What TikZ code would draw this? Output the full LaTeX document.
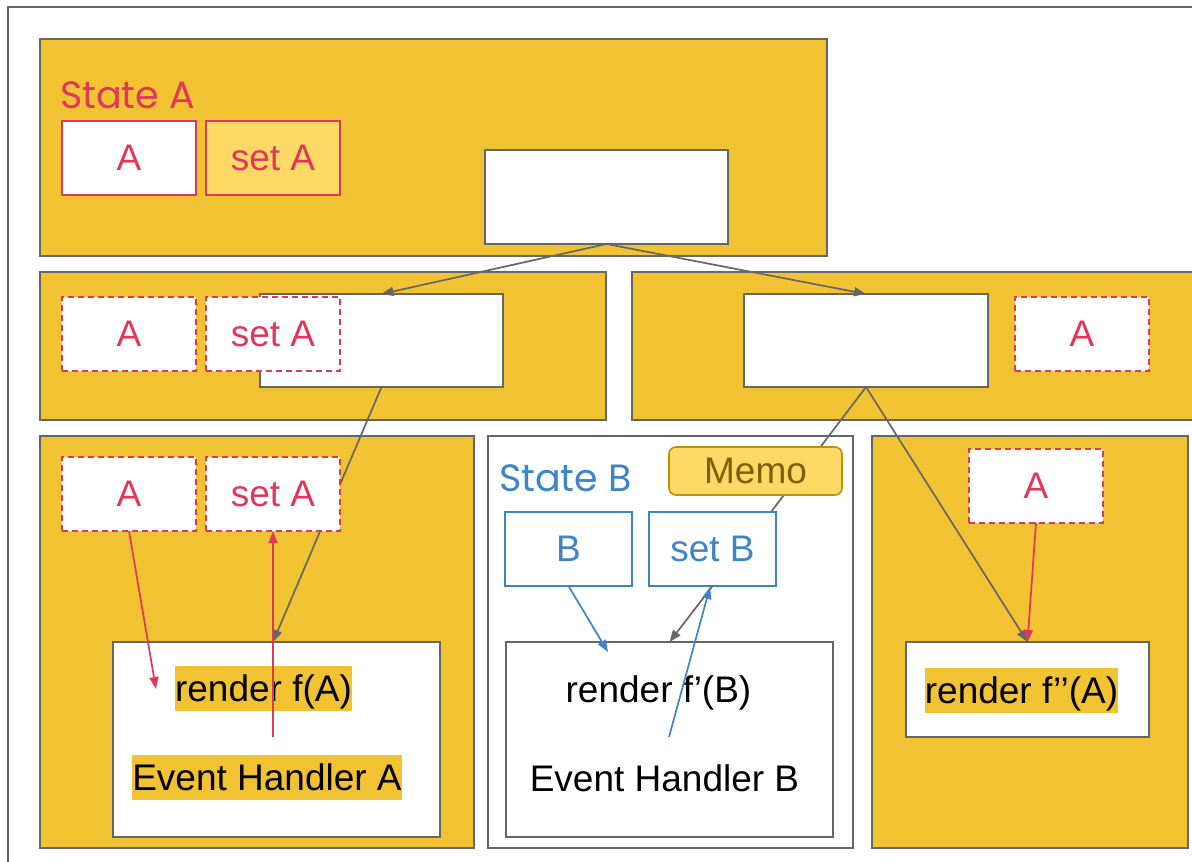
\documentclass[tikz,border=0pt]{standalone}
\usepackage{fontspec}
\setmainfont{Liberation Sans}
\newfontfamily\statefont{Poppins}
\usetikzlibrary{arrows.meta,calc}
\definecolor{gold}{HTML}{F1C232}
\definecolor{lightgold}{HTML}{FFD966}
\definecolor{hookred}{HTML}{E0385A}
\definecolor{hookblue}{HTML}{3D85C6}
\definecolor{edge}{HTML}{666666}
\definecolor{memoedge}{HTML}{BF9000}
\definecolor{memotext}{HTML}{7F6000}
\tikzset{
  x=1pt, y=-1pt,
  every node/.style={inner sep=0pt, outer sep=0pt, font=\fontsize{37}{42}\selectfont},
  container/.style={draw=edge, line width=2pt, fill=gold},
  plain/.style={draw=edge, line width=2pt, fill=white},
  statebox/.style={draw=hookred, line width=2pt, text=hookred, fill=white,
    minimum width=134pt, minimum height=74pt},
  propbox/.style={statebox, dash pattern=on 6pt off 4pt},
  bluebox/.style={draw=hookblue, line width=2pt, text=hookblue, fill=white,
    minimum width=127pt, minimum height=74pt},
  label/.style={text height=35pt, text depth=10pt},
  hl/.style={label, fill=gold},
  statelabel/.style={font=\statefont\fontsize{38}{42}\selectfont, anchor=base west},
  tip/.style={-{Triangle[length=12pt,width=9pt]}},
  grayflow/.style={tip, draw=edge, line width=1.7pt},
  redflow/.style={tip, draw=hookred, line width=1.7pt},
  blueflow/.style={tip, draw=hookblue, line width=1.7pt},
}
\begin{document}
\begin{tikzpicture}
\clip (0,0) rectangle (1192,862);
\fill[white] (0,0) rectangle (1192,862);
% page frame
\draw[edge, line width=2pt] (8,7) rectangle (1220,880);

% component containers
\node[container, minimum width=787pt, minimum height=217pt] (top) at (433.5,147.5) {};
\node[container, minimum width=566pt, minimum height=148pt] (midL) at (323,346) {};
\node[container, minimum width=588pt, minimum height=148pt] (midR) at (926,346) {};
\node[container, minimum width=434pt, minimum height=412pt] (botL) at (257,642) {};
\node[plain, minimum width=365pt, minimum height=412pt] (botM) at (670.5,642) {};
\node[container, minimum width=316pt, minimum height=412pt] (botR) at (1030,642) {};

% render areas
\node[plain, minimum width=243pt, minimum height=94pt] (topw) at (606.5,197) {};
\node[plain, minimum width=243pt, minimum height=93pt] (lw) at (381.5,340.5) {};
\node[plain, minimum width=244pt, minimum height=93pt] (rw) at (866,340.5) {};
\node[plain, minimum width=327pt, minimum height=195pt] (lr) at (276.5,739.5) {};
\node[plain, minimum width=327pt, minimum height=195pt] (mr) at (669.5,739.5) {};
\node[plain, minimum width=243pt, minimum height=95pt] (rr) at (1027.5,689.5) {};

% texts inside render areas
\node[hl] (tfA) at (263.5,688.5) {render f(A)};
\node[hl] (tEHA) at (267,777.5) {Event Handler A};
\node[label] (tfB) at (658.5,689.5) {render f’(B)};
\node[label] (tEHB) at (664.5,778.5) {Event Handler B};
\node[hl] (tfAA) at (1021.5,690.5) {render f’’(A)};

% parent to child links
\draw[grayflow] (topw.south) -- (lw.north);
\draw[grayflow] (topw.south) -- (rw.north);
\draw[grayflow] (lw.south) -- ($(lr.north west)!(273,0)!(lr.north east)$);
\draw[grayflow] (rw.south) -- (rr.north);

% state A
\node[statelabel, text=hookred] (stA) at (60,108) {State A};
\node[statebox] (a1) at (129,158) {A};
\node[statebox, fill=lightgold] (sa1) at (273,158) {set A};

% props passed down
\node[propbox] (a2) at (129,334) {A};
\node[propbox] (sa2) at (273,334) {set A};
\node[propbox] (a2r) at (1082,334) {A};
\node[propbox] (a3) at (129,494) {A};
\node[propbox] (sa3) at (273,494) {set A};
\node[propbox] (a3r) at (1036,485.5) {A};

% state B
\node[statelabel, text=hookblue] (stB) at (499,491) {State B};
\coordinate (memoIn) at (771,512);
\draw[edge, line width=1.7pt] (rw.south) -- (memoIn);
\node[bluebox] (bB) at (568.5,549) {B};
\node[bluebox] (sB) at (712.5,549) {set B};
\node[draw=memoedge, line width=1.6pt, fill=lightgold, rounded corners=7pt,
  text=memotext, minimum width=173pt, minimum height=48pt] (memo) at (755.5,471) {Memo};
\draw[grayflow] (sB.south) -- (mr.north);

% data flow
\coordinate (useA) at (156,689);
\coordinate (handA) at (273,737);
\coordinate (useB) at (608,652);
\coordinate (handB) at (669,737);
\coordinate (setBin) at (710,587);
\draw[redflow] (a3.south) -- (useA);
\draw[redflow] (handA) -- (sa3.south);
\draw[redflow] (a3r.south) -- (rr.north);
\draw[blueflow] (bB.south) -- (useB);
\draw[blueflow] (handB) -- (setBin);
\end{tikzpicture}
\end{document}
